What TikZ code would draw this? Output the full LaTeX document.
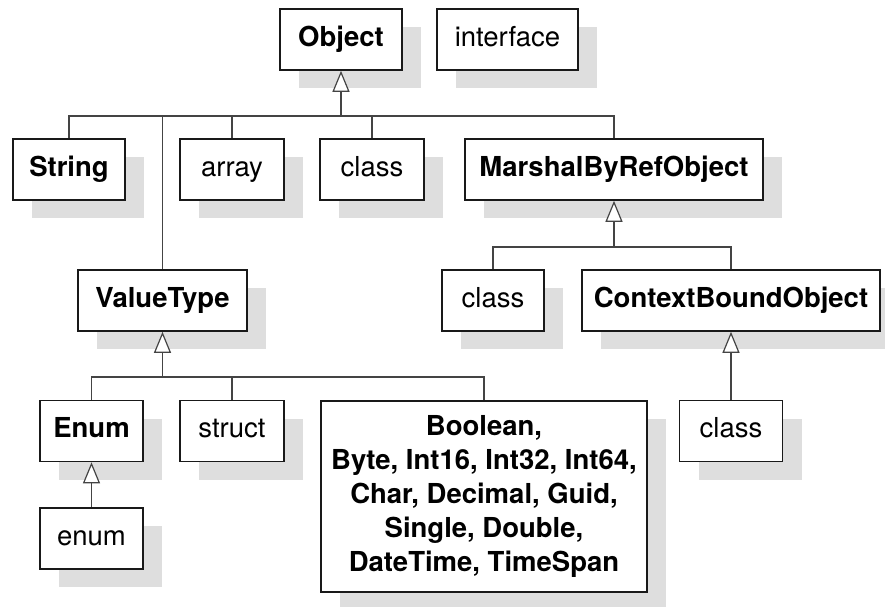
\documentclass[tikz,border=0pt]{standalone}
\usepackage{fontspec}
\setmainfont{TeX Gyre Heros}
\usetikzlibrary{arrows.meta}
\definecolor{shadowgray}{HTML}{DEDEDE}
\definecolor{linegray}{HTML}{444444}

\begin{document}
\begin{tikzpicture}[x=1pt, y=-1pt,
        typebox/.style={draw=black!90, line width=1.6pt, fill=white, minimum height=61pt, inner sep=0pt, align=center,
            text height=20pt, text depth=7pt, font=\fontsize{27.5}{34}\selectfont,
            preaction={fill=shadowgray, draw=none, transform canvas={xshift=19pt, yshift=-18pt}}},
        corebox/.style={typebox, font=\fontsize{27.5}{34}\selectfont\bfseries},
        link/.style={draw=linegray, line width=1.2pt},
        inherit/.style={link, -{Triangle[width=17pt, length=21pt, fill=white]}}]
    \useasboundingbox (0,0) rectangle (885,606);

    % top row
    \node[corebox, minimum width=122pt] (object) at (341,39.5) {Object};
    \node[typebox, minimum width=141pt] (iface) at (507.5,39.5) {interface};

    % second row
    \node[corebox, minimum width=112pt] (string) at (69,169.5) {String};
    \node[typebox, minimum width=104pt] (array) at (232,169.5) {array};
    \node[typebox, minimum width=104pt] (classa) at (372,169.5) {class};
    \node[corebox, minimum width=298pt] (marshal) at (614,169.5) {MarshalByRefObject};

    % third row
    \node[corebox, minimum width=169pt] (valuetype) at (162.5,300.5) {ValueType};
    \node[typebox, minimum width=102pt] (classb) at (493,300.5) {class};
    \node[corebox, minimum width=298pt] (ctxbound) at (731,300.5) {ContextBoundObject};

    % fourth row
    \node[corebox, minimum width=103pt] (enumtype) at (91.5,431) {Enum};
    \node[typebox, minimum width=104pt] (struct) at (232,431) {struct};
    \node[corebox, minimum width=326pt, minimum height=191pt, text height={}, text depth={}] (prims) at (484,496.5)
        {Boolean,\\Byte, Int16, Int32, Int64,\\Char, Decimal, Guid,\\Single, Double,\\DateTime, TimeSpan};
    \node[typebox, minimum width=103pt] (classc) at (731,431) {class};
    \node[typebox, minimum width=103pt] (enumkw) at (91.5,538.5) {enum};

    % inheritance buses
    \coordinate (objbus) at (341,116);
    \draw[inherit] (objbus) -- (object);
    \draw[link] (string.north) |- (objbus) -| (marshal.north);
    \draw[link] (array.north) -- (array.north |- objbus);
    \draw[link] (classa.north) -- (classa.north |- objbus);
    \draw[link] (valuetype.north) -- (valuetype.north |- objbus);

    \coordinate (mbrbus) at (614,247);
    \draw[inherit] (mbrbus) -- (marshal);
    \draw[link] (classb.north) |- (mbrbus) -| (ctxbound.north);

    \coordinate (vtbus) at (162.5,377);
    \draw[inherit] (vtbus) -- (valuetype);
    \draw[link] (enumtype.north) |- (vtbus) -| (prims.north);
    \draw[link] (struct.north) -- (struct.north |- vtbus);

    \draw[inherit] (classc) -- (ctxbound);
    \draw[inherit] (enumkw) -- (enumtype);
\end{tikzpicture}
\end{document}
